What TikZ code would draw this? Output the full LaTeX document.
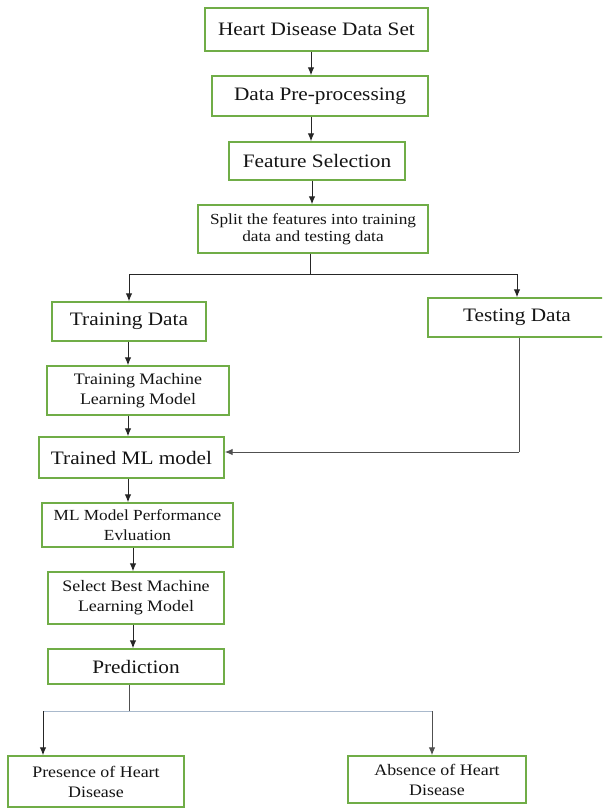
\documentclass[tikz,border=0pt]{standalone}
\usepackage{fontspec}
\setmainfont{Liberation Serif}[FakeStretch=1.12]
\usetikzlibrary{arrows.meta}
\definecolor{boxgreen}{HTML}{70AD47}
\definecolor{txt}{HTML}{141414}
\definecolor{linegray}{HTML}{505050}
\definecolor{lineblue}{HTML}{A9B9CC}
\begin{document}
\begin{tikzpicture}[x=1pt,y=-1pt,
  box/.style={draw=boxgreen,line width=1.4pt,fill=white,inner sep=0pt,align=center,text=txt},
  big/.style={font=\fontsize{19}{22}\selectfont},
  small/.style={font=\fontsize{16}{20}\selectfont},
  smaller/.style={font=\fontsize{15.4}{17}\selectfont},
  arr/.style={draw=black!85,line width=1pt,-{Latex[length=8pt,width=6.5pt]}},
  ln/.style={draw=black!85,line width=1pt}]
\useasboundingbox (0,0) rectangle (602,808);
\clip (0,0) rectangle (602,808);
\fill[white] (0,0) rectangle (602,808);
% nodes
\node[box,big,minimum width=223,minimum height=43] (heart) at (316.5,29.5) {Heart Disease Data Set};
\node[box,big,minimum width=216,minimum height=40] (pre) at (320,96) {Data Pre-processing};
\node[box,big,minimum width=176,minimum height=38] (feat) at (317,161) {Feature Selection};
\node[box,smaller,minimum width=230,minimum height=48] (split) at (313,229) {Split the features into training\\data and testing data};
\node[box,big,minimum width=154,minimum height=39] (train) at (129,321.5) {Training Data};
\node[box,big,minimum width=178,minimum height=39] (test) at (517,317.5) {Testing Data};
\node[box,small,minimum width=182,minimum height=49] (tmlm) at (138,390.5) {Training Machine\\Learning Model};
\node[box,big,minimum width=185,minimum height=41] (trained) at (131.5,457.5) {Trained ML model};
\node[box,minimum width=191,minimum height=44,font=\fontsize{15.4}{20}\selectfont] (perf) at (137.5,525) {ML Model Performance\\Evluation};
\node[box,small,minimum width=176,minimum height=52] (select) at (136,598) {Select Best Machine\\Learning Model};
\node[box,big,minimum width=176,minimum height=35] (pred) at (136,666.5) {Prediction};
\node[box,small,minimum width=176,minimum height=51] (pres) at (96,781.5) {Presence of Heart\\Disease};
\node[box,small,minimum width=178,minimum height=47] (abs) at (437,779.5) {Absence of Heart\\Disease};
% axis coordinates
\coordinate (a311) at (311,0);
\coordinate (a312) at (312,0);
\coordinate (a310) at (310,0);
\coordinate (a128) at (128,0);
\coordinate (a129) at (129,0);
\coordinate (a133) at (133,0);
\coordinate (a517) at (517,0);
\coordinate (a519) at (519,0);
\coordinate (a43) at (43,0);
\coordinate (a432) at (432,0);
\coordinate (split1) at (310,274);
\coordinate (test1) at (519,452);
\coordinate (pred1) at (129,711);
% connectors
\draw[arr] (heart.south -| a311) -- (pre.north -| a311);
\draw[arr] (pre.south -| a311) -- (feat.north -| a311);
\draw[arr] (feat.south -| a312) -- (split.north -| a312);
\draw[ln] (split.south -| a310) -- (split1);
\draw[arr] (split1) -| (train.north -| a129);
\draw[arr] (split1) -| (test.north -| a517);
\draw[arr] (train.south -| a128) -- (tmlm.north -| a128);
\draw[arr] (tmlm.south -| a128) -- (trained.north -| a128);
\draw[ln,draw=linegray] (test.south -| a519) -- (test1);
\draw[arr,draw=linegray] (test1) -- (trained.east |- test1);
\draw[arr] (trained.south -| a128) -- (perf.north -| a128);
\draw[arr] (perf.south -| a133) -- (select.north -| a133);
\draw[arr] (select.south -| a133) -- (pred.north -| a133);
\draw[ln,draw=linegray] (pred.south -| a129) -- (pred1);
\draw[line width=1pt,draw=lineblue] (pred1 -| a43) -- (pred1 -| a432);
\draw[arr] (pred1 -| a43) -- (pres.north -| a43);
\draw[arr,draw=linegray] (pred1 -| a432) -- (abs.north -| a432);
\end{tikzpicture}
\end{document}
